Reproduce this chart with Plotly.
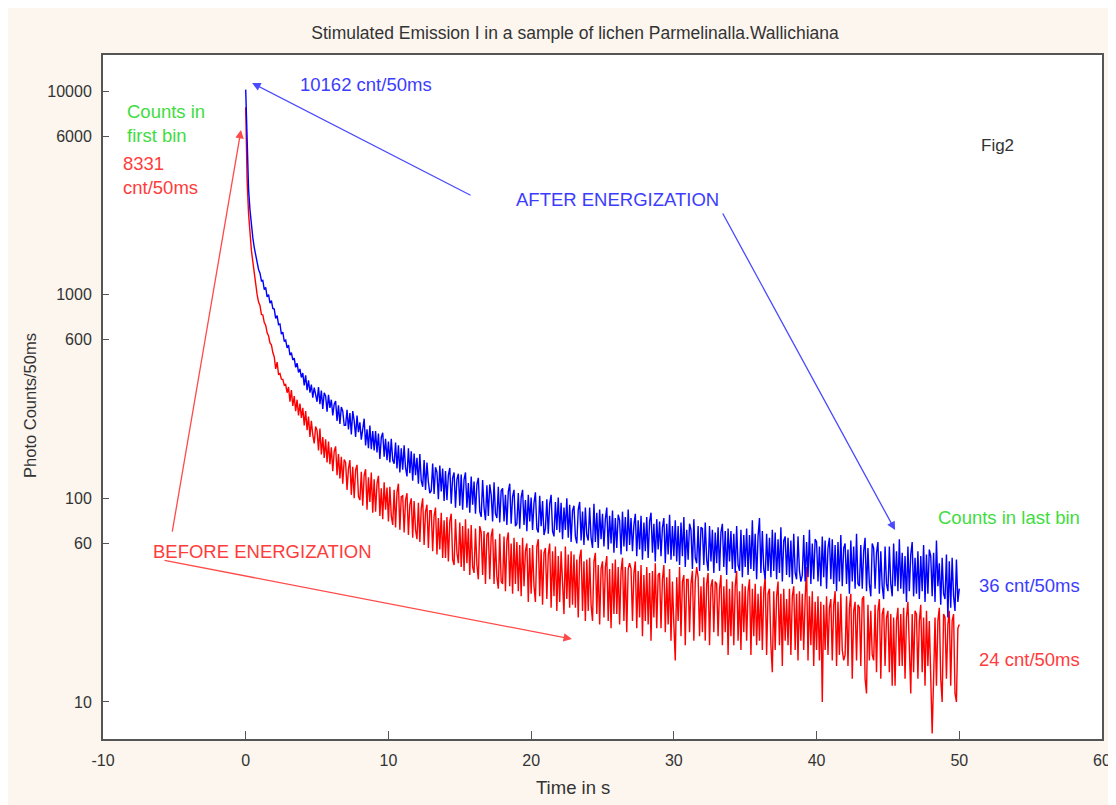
import plotly.graph_objects as go

# ---------------- data (photon counts per 50 ms bin, sampled every 0.1 s) ----------------
time_step = 0.1
n_bins = 501

blue_counts = [
    10162, 4800, 3300, 2600, 2150, 1900, 1700, 1550, 1430, 1330,
    1275, 1170, 1176, 1060, 1085, 975, 1002, 910, 935, 855,
    850, 765, 790, 712, 718, 640, 655, 590, 598, 548,
    565, 505, 520, 478, 488, 440, 461, 415, 432, 392,
    412, 358, 402, 340, 380, 330, 362, 312, 350, 318,
    298, 352, 290, 338, 275, 330, 318, 266, 322, 278,
    305, 255, 290, 300, 240, 286, 232, 281, 268, 228,
    228, 272, 218, 262, 206, 268, 240, 200, 255, 211,
    236, 194, 222, 246, 182, 218, 176, 228, 174, 214,
    172, 214, 168, 208, 156, 199, 210, 160, 196, 154,
    190, 150, 196, 154, 148, 188, 140, 182, 134, 176,
    138, 182, 141, 128, 176, 133, 170, 122, 166, 130,
    158, 118, 165, 122, 114, 154, 110, 150, 120, 106,
    109, 148, 105, 142, 134, 99, 145, 108, 140, 97,
    136, 98, 130, 141, 94, 126, 134, 90, 124, 132,
    92, 131, 88, 124, 134, 90, 119, 85, 128, 93,
    121, 84, 117, 126, 86, 81, 123, 90, 78, 116,
    82, 117, 104, 77, 120, 84, 80, 114, 76, 109,
    112, 77, 104, 74, 108, 118, 75, 102, 110, 73,
    75, 106, 71, 101, 110, 74, 98, 69, 104, 77,
    101, 70, 95, 107, 71, 68, 103, 73, 97, 66,
    71, 99, 67, 94, 104, 69, 65, 96, 70, 101,
    68, 95, 63, 90, 70, 100, 64, 93, 61, 87,
    92, 65, 60, 88, 96, 62, 86, 59, 90, 66,
    62, 90, 64, 57, 94, 61, 85, 57, 88, 63,
    84, 58, 79, 90, 56, 82, 60, 87, 54, 80,
    57, 83, 78, 53, 86, 58, 81, 55, 88, 59,
    80, 55, 74, 84, 52, 78, 56, 82, 50, 76,
    55, 81, 51, 77, 85, 54, 75, 49, 79, 56,
    77, 52, 72, 80, 48, 75, 53, 83, 50, 73,
    52, 78, 49, 73, 47, 76, 52, 81, 46, 70,
    50, 75, 70, 45, 79, 51, 48, 73, 44, 72,
    71, 47, 76, 50, 44, 73, 49, 70, 43, 68,
    48, 72, 44, 68, 75, 46, 69, 42, 71, 49,
    69, 45, 67, 43, 73, 47, 44, 70, 41, 66,
    46, 71, 42, 66, 45, 78, 44, 67, 40, 65,
    80, 43, 69, 45, 40, 67, 44, 64, 41, 70,
    44, 68, 40, 63, 43, 72, 39, 62, 65, 42,
    64, 41, 62, 38, 67, 43, 40, 65, 44, 39,
    42, 66, 39, 61, 41, 70, 38, 60, 40, 63,
    61, 39, 58, 37, 65, 41, 62, 36, 57, 64,
    40, 63, 38, 59, 35, 61, 39, 66, 37, 57,
    60, 38, 56, 34, 62, 39, 58, 36, 67, 38,
    37, 59, 36, 55, 64, 35, 57, 38, 33, 60,
    57, 36, 54, 61, 34, 55, 37, 32, 58, 38,
    35, 58, 38, 33, 60, 37, 55, 35, 63, 36,
    54, 34, 52, 31, 58, 35, 53, 61, 33, 51,
    34, 55, 32, 52, 35, 59, 31, 53, 34, 56,
    52, 33, 54, 31, 62, 37, 48, 30, 51, 34,
    32, 53, 26, 49, 29, 51, 33, 28, 50, 31,
    36,
]

red_counts = [
    8331, 3600, 2500, 1950, 1650, 1450, 1250, 1120, 1000, 920,
    885, 800, 795, 730, 708, 650, 628, 580, 568, 520,
    495, 432, 466, 405, 410, 385, 384, 360, 362, 330,
    352, 298, 340, 284, 318, 268, 305, 255, 292, 248,
    278, 228, 268, 216, 252, 200, 240, 205, 186, 225,
    215, 172, 220, 164, 200, 158, 195, 150, 190, 147,
    178, 136, 170, 180, 130, 165, 125, 160, 118, 155,
    150, 110, 140, 154, 104, 143, 100, 138, 146, 102,
    98, 135, 92, 130, 139, 88, 127, 96, 134, 85,
    124, 86, 118, 129, 82, 112, 79, 120, 88, 113,
    77, 114, 82, 74, 110, 72, 107, 118, 70, 102,
    103, 68, 98, 106, 66, 93, 100, 64, 97, 70,
    63, 95, 61, 89, 100, 59, 86, 93, 57, 87,
    87, 55, 82, 90, 53, 80, 56, 85, 51, 78,
    51, 81, 49, 77, 84, 50, 47, 79, 54, 48,
    76, 46, 73, 44, 79, 48, 71, 42, 74, 46,
    43, 71, 47, 40, 73, 68, 42, 69, 38, 66,
    68, 40, 65, 71, 38, 63, 41, 36, 67, 39,
    38, 65, 35, 62, 68, 37, 60, 34, 64, 38,
    61, 35, 59, 33, 64, 37, 55, 60, 31, 57,
    34, 59, 37, 31, 58, 63, 33, 56, 30, 54,
    57, 32, 53, 60, 29, 55, 33, 58, 28, 52,
    31, 55, 34, 27, 58, 32, 53, 29, 55, 30,
    53, 29, 50, 26, 51, 56, 28, 49, 25, 50,
    28, 51, 30, 25, 49, 54, 27, 47, 24, 45,
    49, 26, 46, 52, 25, 45, 23, 48, 27, 50,
    27, 46, 24, 44, 51, 25, 46, 22, 45, 48,
    45, 25, 43, 49, 23, 44, 26, 47, 21, 42,
    25, 46, 24, 43, 20, 44, 26, 48, 23, 42,
    43, 23, 40, 47, 22, 41, 24, 45, 20, 39,
    24, 16, 41, 25, 46, 21, 39, 42, 19, 40,
    40, 22, 38, 44, 20, 39, 46, 41, 21, 37,
    22, 41, 20, 38, 43, 19, 37, 40, 22, 39,
    38, 21, 36, 42, 19, 37, 22, 40, 17, 36,
    21, 39, 19, 37, 44, 20, 35, 18, 38, 22,
    37, 20, 35, 40, 17, 36, 21, 38, 19, 34,
    20, 37, 18, 35, 41, 17, 34, 36, 19, 14,
    35, 18, 33, 39, 19, 34, 15, 36, 20, 32,
    19, 36, 17, 33, 37, 18, 34, 16, 35, 20,
    34, 18, 32, 46, 16, 33, 19, 35, 15, 31,
    18, 33, 16, 31, 10, 30, 18, 33, 17, 29,
    32, 16, 30, 35, 15, 31, 17, 34, 18, 16,
    17, 33, 15, 29, 34, 13, 28, 31, 16, 30,
    29, 15, 32, 33, 13, 11, 30, 16, 28, 17,
    16, 30, 14, 28, 32, 13, 27, 29, 15, 26,
    28, 14, 27, 12, 26, 12, 25, 29, 15, 27,
    15, 29, 13, 26, 31, 16, 11, 27, 14, 28,
    27, 13, 25, 30, 14, 26, 12, 28, 15, 25,
    14, 7, 13, 26, 12, 25, 29, 13, 10, 27,
    26, 13, 24, 28, 12, 25, 27, 11, 10, 23,
    24,
]

time_s = [round(i * time_step, 1) for i in range(n_bins)]

x_ticks = [-10, 0, 10, 20, 30, 40, 50, 60]
x_tick_labels = ["-10", "0", "10", "20", "30", "40", "50", "60"]
y_ticks = [10, 60, 100, 600, 1000, 6000, 10000]
y_tick_labels = ["10", "60", "100", "600", "1000", "6000", "10000"]

title_text = "Stimulated Emission I in a sample of lichen Parmelinalla.Wallichiana"
x_label = "Time in s"
y_label = "Photo Counts/50ms"

# ---------------- figure ----------------
FONT = "Liberation Sans, Arial, sans-serif"
BLUE = "#0000ff"
RED = "#ff0000"
BLUE_TXT = "#3c3cff"
RED_TXT = "#ff3c3c"
GREEN_TXT = "#3fdc3f"
ANN_SIZE = 18.5

fig = go.Figure()
fig.add_trace(go.Scatter(x=time_s, y=red_counts, mode="lines",
                         line=dict(color=RED, width=1.4), name="before",
                         hoverinfo="x+y"))
fig.add_trace(go.Scatter(x=time_s, y=blue_counts, mode="lines",
                         line=dict(color=BLUE, width=1.4), name="after",
                         hoverinfo="x+y"))

# log-axis range (log10 units)
y_lo, y_hi = 0.818, 4.177

axis_common = dict(showgrid=False, zeroline=False, showline=True, mirror=True,
                   linecolor="#555555", linewidth=2, ticks="inside",
                   tickcolor="#555555", tickwidth=1,
                   tickfont=dict(family=FONT, size=16, color="#333333"))

fig.update_xaxes(range=[-10, 60], tickvals=x_ticks, ticktext=x_tick_labels,
                 ticklen=8, ticklabelstandoff=6, **axis_common)
fig.update_yaxes(type="log", range=[y_lo, y_hi], tickvals=y_ticks,
                 ticktext=y_tick_labels, ticklen=6, ticklabelstandoff=6,
                 **axis_common)


def ann(text, x, ly, color, size=ANN_SIZE, xanchor="left"):
    fig.add_annotation(text=text, x=x, y=ly, xref="x", yref="y",
                       showarrow=False, xanchor=xanchor, yanchor="middle",
                       align="left",
                       font=dict(family=FONT, size=size, color=color))


def arrow(x0, ly0, x1, ly1, color):
    fig.add_annotation(x=x1, y=ly1, ax=x0, ay=ly0, xref="x", yref="y",
                       axref="x", ayref="y", text="", showarrow=True,
                       arrowhead=2, arrowsize=1.3, arrowwidth=1.3,
                       arrowcolor=color, standoff=0, startstandoff=0)


# arrows (positions in data coords; y in log10 units)
arrow(15.86, 3.4845, 0.45, 4.0395, "#4a4aff")
arrow(33.37, 3.406, 45.50, 1.844, "#4a4aff")
arrow(-5.165, 1.829, -0.33, 3.809, "#ff4a4a")
arrow(-5.796, 1.697, 22.86, 1.309, "#ff4a4a")

# texts
ann("10162 cnt/50ms", 3.66, 4.0346, BLUE_TXT)
ann("Counts in<br>first bin", -8.46, 3.841, GREEN_TXT)
ann("8331<br>cnt/50ms", -8.74, 3.583, RED_TXT)
ann("AFTER ENERGIZATION", 18.80, 3.465, BLUE_TXT)
ann("Fig2", 52.71, 3.735, "#333333", size=17, xanchor="center")
ann("BEFORE ENERGIZATION", -6.64, 1.741, RED_TXT)
ann("Counts in last bin", 48.37, 1.908, GREEN_TXT)
ann("36 cnt/50ms", 51.24, 1.574, BLUE_TXT)
ann("24 cnt/50ms", 51.24, 1.206, RED_TXT)

# axis titles
fig.add_annotation(text=x_label, x=0.4705, y=-0.0702, xref="paper", yref="paper",
                   showarrow=False, xanchor="center", yanchor="middle",
                   font=dict(family=FONT, size=18.5, color="#333333"))
fig.add_annotation(text=y_label, x=-0.0731, y=0.4883, xref="paper", yref="paper",
                   showarrow=False, xanchor="center", yanchor="middle",
                   textangle=-90,
                   font=dict(family=FONT, size=16.5, color="#333333"))

fig.update_layout(
    width=1116, height=805, autosize=False,
    margin=dict(l=95, r=22, t=47, b=74),
    paper_bgcolor="#fcf6ef", plot_bgcolor="#ffffff",
    showlegend=False,
    title=dict(text=title_text, x=(575 - 103) / 999, xref="paper",
               xanchor="center", y=1 - 25 / 805, yanchor="middle",
               font=dict(family=FONT, size=17.5, color="#333333")),
)

fig.write_html("out.html")
